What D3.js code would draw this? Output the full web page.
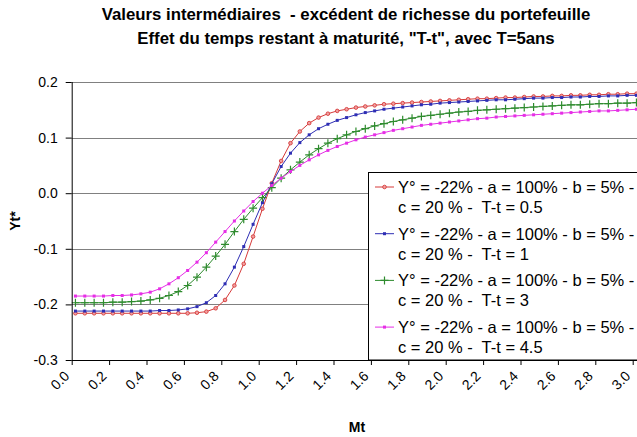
<!DOCTYPE html>
<html><head><meta charset="utf-8">
<script src="https://cdn.jsdelivr.net/npm/d3@7/dist/d3.min.js"></script>
<style>body{margin:0;background:#fff;}svg{display:block;font-family:"Liberation Sans",Arial,sans-serif;}svg text{white-space:pre;}</style>
</head><body><svg id="c" width="637" height="437"></svg>
<script>
const titleLines = ["Valeurs intermédiaires  - excédent de richesse du portefeuille", "Effet du temps restant à maturité, \"T-t\", avec T=5ans"];
const xTicks = [0.0,0.2,0.4,0.6,0.8,1.0,1.2,1.4,1.6,1.8,2.0,2.2,2.4,2.6,2.8,3.0];
const yTicks = [-0.3,-0.2,-0.1,0.0,0.1,0.2];
const mt = [0.02,0.07,0.12,0.17,0.22,0.27,0.32,0.37,0.42,0.47,0.52,0.57,0.62,0.67,0.72,0.77,0.82,0.87,0.92,0.97,1.02,1.07,1.12,1.17,1.22,1.27,1.32,1.37,1.42,1.47,1.52,1.57,1.62,1.67,1.72,1.77,1.82,1.87,1.92,1.97,2.02,2.07,2.12,2.17,2.22,2.27,2.32,2.37,2.42,2.47,2.52,2.57,2.62,2.67,2.72,2.77,2.82,2.87,2.92,2.97,3.02];
const red = [-0.216,-0.216,-0.216,-0.216,-0.216,-0.216,-0.216,-0.216,-0.216,-0.216,-0.216,-0.216,-0.216,-0.215,-0.213,-0.207,-0.192,-0.166,-0.127,-0.078,-0.028,0.018,0.058,0.090,0.111,0.126,0.136,0.143,0.148,0.151,0.154,0.156,0.158,0.160,0.161,0.162,0.163,0.164,0.165,0.166,0.167,0.168,0.169,0.170,0.170,0.171,0.172,0.172,0.173,0.174,0.174,0.175,0.175,0.176,0.176,0.177,0.177,0.178,0.178,0.179,0.179];
const blue = [-0.212,-0.212,-0.212,-0.212,-0.212,-0.212,-0.212,-0.212,-0.212,-0.211,-0.211,-0.210,-0.208,-0.204,-0.197,-0.184,-0.163,-0.133,-0.096,-0.056,-0.017,0.017,0.048,0.072,0.091,0.105,0.116,0.124,0.131,0.136,0.141,0.145,0.148,0.151,0.153,0.155,0.157,0.159,0.160,0.162,0.163,0.164,0.165,0.166,0.167,0.168,0.168,0.169,0.170,0.171,0.171,0.172,0.172,0.173,0.173,0.174,0.174,0.175,0.175,0.176,0.176];
const green = [-0.197,-0.197,-0.197,-0.197,-0.196,-0.196,-0.195,-0.194,-0.192,-0.189,-0.184,-0.177,-0.166,-0.151,-0.133,-0.113,-0.092,-0.069,-0.047,-0.027,-0.008,0.010,0.027,0.042,0.056,0.069,0.080,0.090,0.098,0.105,0.111,0.116,0.121,0.125,0.129,0.132,0.135,0.138,0.140,0.142,0.144,0.146,0.147,0.149,0.150,0.151,0.152,0.153,0.154,0.155,0.156,0.157,0.158,0.159,0.159,0.160,0.161,0.161,0.162,0.162,0.163];
const magenta = [-0.185,-0.185,-0.185,-0.185,-0.184,-0.184,-0.183,-0.181,-0.178,-0.172,-0.163,-0.152,-0.139,-0.124,-0.107,-0.088,-0.069,-0.050,-0.032,-0.015,0.000,0.014,0.027,0.039,0.050,0.060,0.069,0.077,0.084,0.090,0.096,0.101,0.105,0.109,0.113,0.116,0.119,0.122,0.124,0.126,0.128,0.130,0.132,0.134,0.135,0.137,0.138,0.139,0.140,0.141,0.142,0.143,0.144,0.145,0.146,0.147,0.148,0.148,0.149,0.150,0.151];
const legendLine1 = "Y° = -22% - a = 100% - b = 5% -";
const legendLine2 = ["c = 20 % -  T-t = 0.5","c = 20 % -  T-t = 1","c = 20 % -  T-t = 3","c = 20 % -  T-t = 4.5"];
const colors = ["#d63a3a","#2e2eb4","#2e8b2e","#e62ee6"];
const markers = ["circle","square","plus","square"];
const seriesVals = [red, blue, green, magenta];

const svg = d3.select("#c");
const L = 71.7, R = 632.7, T = 82, B = 360;
const x = d3.scaleLinear().domain([0,3]).range([L,R]);
const y = d3.scaleLinear().domain([-0.3,0.2]).range([B,T]);
const fmt = d => (Math.abs(d) < 1e-9 ? 0 : d).toFixed(1);

// title
svg.selectAll("text.title").data(titleLines).enter().append("text")
  .attr("x",346).attr("y",(d,i)=>20+i*24).attr("text-anchor","middle")
  .attr("font-size","16.8px").attr("font-weight","bold").attr("fill","#000").text(d=>d);

// gridlines
svg.append("g").selectAll("line").data(yTicks.filter(v=>v>-0.3)).enter().append("line")
  .attr("x1",L).attr("x2",637).attr("y1",d=>Math.round(y(d))+0.5).attr("y2",d=>Math.round(y(d))+0.5)
  .attr("stroke","#808080").attr("stroke-width",1);

// series
svg.append("clipPath").attr("id","pc").append("rect").attr("x",L).attr("y",0).attr("width",637-L).attr("height",B);
const plot = svg.append("g").attr("clip-path","url(#pc)");
seriesVals.forEach((vals,si)=>{
  const pts = mt.map((m,i)=>[m,vals[i]]);
  plot.append("path").datum(pts).attr("fill","none").attr("stroke",colors[si]).attr("stroke-width",1)
    .attr("d",d3.line().x(d=>x(d[0])).y(d=>y(d[1])));
  const g = plot.append("g");
  pts.forEach(p=>drawMarker(g, x(p[0]), y(p[1]), si));
});
function drawMarker(g,cx,cy,si){
  const c = colors[si];
  if(markers[si]==="circle"){
    g.append("circle").attr("cx",cx).attr("cy",cy).attr("r",1.8).attr("fill","#f0a0a0").attr("stroke",c).attr("stroke-width",0.9);
  } else if(markers[si]==="square"){
    g.append("rect").attr("x",cx-1.5).attr("y",cy-1.5).attr("width",3).attr("height",3).attr("fill",c);
  } else {
    g.append("path").attr("d",`M${cx-4},${cy}H${cx+4}M${cx},${cy-4}V${cy+4}`).attr("stroke",c).attr("stroke-width",1.2).attr("fill","none");
  }
}

// axes
const xAxis = d3.axisBottom(x).tickValues(xTicks).tickSize(5).tickFormat(fmt);
const gx = svg.append("g").attr("transform",`translate(0,${B})`).call(xAxis);
gx.select(".domain").attr("d",`M${L},0.5H637`).attr("stroke","#000");
gx.selectAll(".tick line").attr("stroke","#000");
gx.selectAll(".tick text").attr("font-size","14px").attr("font-family","Liberation Sans, Arial, sans-serif")
  .attr("fill","#000").attr("text-anchor","end").attr("dy",null).attr("y",0)
  .attr("transform","translate(-2,17) rotate(-45)");

const yAxis = d3.axisLeft(y).tickValues(yTicks).tickSize(6).tickFormat(fmt);
const gy = svg.append("g").attr("transform",`translate(${L},0)`).call(yAxis);
gy.select(".domain").attr("d",`M0.5,${T}V${B}`).attr("stroke","#000");
gy.selectAll(".tick line").attr("stroke","#000");
gy.selectAll(".tick text").attr("font-size","14px").attr("font-family","Liberation Sans, Arial, sans-serif").attr("fill","#000").attr("x",-14);

// axis titles
svg.append("text").attr("x",357).attr("y",432).attr("text-anchor","middle").attr("font-size","14px").attr("font-weight","bold").text("Mt");
svg.append("text").attr("transform","translate(20,221) rotate(-90)").attr("text-anchor","middle").attr("font-size","14px").attr("font-weight","bold").text("Yt*");

// legend
const lg = svg.append("g");
lg.append("rect").attr("x",368.5).attr("y",172.5).attr("width",300).attr("height",B-172.5).attr("fill","#fff").attr("stroke","#000").attr("stroke-width",1);
legendLine2.forEach((t,i)=>{
  const cy = 187 + i*46.7;
  lg.append("line").attr("x1",375).attr("x2",394).attr("y1",cy).attr("y2",cy).attr("stroke",colors[i]).attr("stroke-width",1);
  drawMarker(lg,384.5,cy,i);
  lg.append("text").attr("x",398).attr("y",cy+6).attr("font-size","16.5px").text(legendLine1);
  lg.append("text").attr("x",398).attr("y",cy+26).attr("font-size","16.5px").text(t);
});
</script></body></html>
